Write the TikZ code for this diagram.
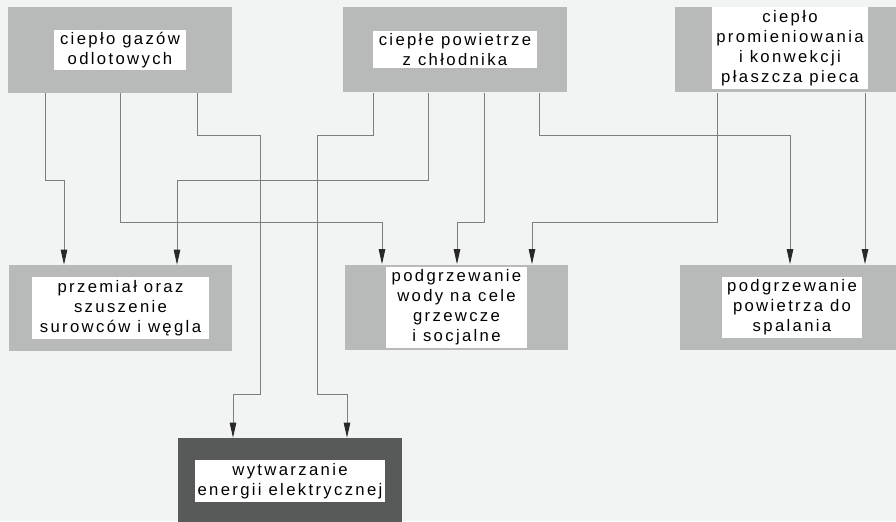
\documentclass[tikz,border=0pt]{standalone}
\usepackage{fontspec}
\newfontfamily\boxfont{Liberation Sans}[LetterSpace=14]
\usetikzlibrary{arrows.meta}

\definecolor{paper}{RGB}{242,244,243}
\definecolor{frame}{RGB}{184,186,186}
\definecolor{darkframe}{RGB}{88,90,90}
\definecolor{wire}{RGB}{125,127,127}
\definecolor{tip}{RGB}{40,40,40}

\begin{document}
\begin{tikzpicture}[x=0.02cm, y=-0.02cm,
	outbox/.style={rectangle, fill=frame, minimum width=4.48cm, minimum height=1.72cm, inner sep=0pt},
	txtbox/.style={rectangle, fill=white, inner sep=0pt, align=center, font={\boxfont\fontsize{9.5}{11.4}\selectfont}},
	flow/.style={draw=wire, line width=0.5pt, -{Triangle[width=0.13cm, length=0.3cm, color=tip]}}]

					\fill[paper] (0,0) rectangle (896,521);
					\clip (0,0) rectangle (896,521);

					\draw
						(120,50) node[outbox] (gazy) {}
						(455,49.5) node[outbox] (chlod) {}
						(787,49.5) node[outbox] (plaszcz) {}

						(120.5,308) node[outbox] (przem) {}
						(456.5,307.5) node[outbox] (woda) {}
						(792,307.5) node[outbox] (spal) {}

						(290,481) node[outbox, fill=darkframe] (prad) {};

					\draw
						(gazy) node[txtbox, minimum width=2.66cm, minimum height=0.8cm] (gazyTxt) {ciepło gazów\\odlotowych}
						(chlod) node[txtbox, minimum width=3.3cm, minimum height=0.76cm] (chlodTxt) {ciepłe powietrze\\z chłodnika}
						(plaszcz) ++(3,-1.5) node[txtbox, minimum width=3.12cm, minimum height=1.64cm] (plaszczTxt) {ciepło\\promieniowania\\i konwekcji\\płaszcza pieca}

						(przem) node[txtbox, minimum width=3.54cm, minimum height=1.24cm] (przemTxt) {przemiał oraz\\szuszenie\\surowców i węgla}
						(woda) node[txtbox, minimum width=2.82cm, minimum height=1.64cm] (wodaTxt) {podgrzewanie\\wody na cele\\grzewcze\\i socjalne}
						(spal) node[txtbox, minimum width=2.8cm, minimum height=1.22cm] (spalTxt) {podgrzewanie\\powietrza do\\spalania}

						(prad) node[txtbox, minimum width=3.8cm, minimum height=0.84cm] (pradTxt) {wytwarzanie\\energii elektrycznej};

					\draw[flow] (gazy.south -| 45,0) |- (64,180) -- (przem.north -| 64,0);
					\draw[flow] (gazy.south -| 120,0) |- (382,222) -- (woda.north -| 382,0);
					\draw[flow] (gazy.south -| 197,0) |- (260,135) |- (233,394) -- (prad.north -| 233,0);

					\draw[flow] (chlod.south -| 373,0) |- (317,135) |- (347,394) -- (prad.north -| 347,0);
					\draw[flow] (chlod.south -| 428,0) |- (177,180) -- (przem.north -| 177,0);
					\draw[flow] (chlod.south -| 484,0) |- (457,222) -- (woda.north -| 457,0);
					\draw[flow] (chlod.south -| 539,0) |- (790,135) -- (spal.north -| 790,0);

					\draw[flow] (plaszcz.south -| 717,0) |- (532,222) -- (woda.north -| 532,0);
					\draw[flow] (plaszcz.south -| 865,0) -- (spal.north -| 865,0);
\end{tikzpicture}
\end{document}
